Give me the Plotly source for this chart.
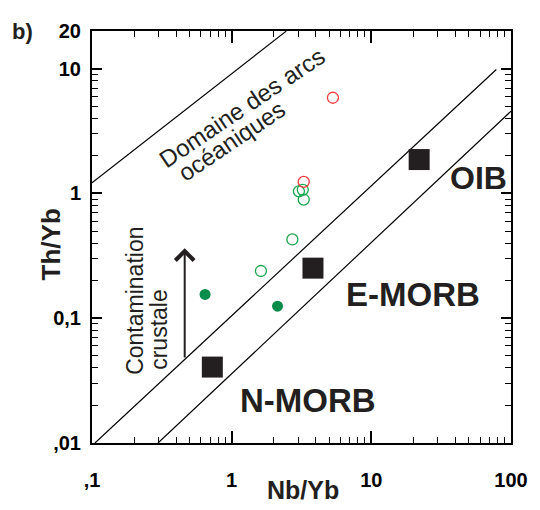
import math
import plotly.graph_objects as go

# ---------------- data ----------------
# reference lines (Nb/Yb, Th/Yb end points)
arc_line_x = [0.1, 2.46]
arc_line_y = [1.22, 20.0]
array_upper_x = [0.105, 78.5]
array_upper_y = [0.01, 9.86]
array_lower_x = [0.297, 100.0]
array_lower_y = [0.01, 4.57]

# reference compositions (N-MORB, E-MORB, OIB)
ref_names = ["N-MORB", "E-MORB", "OIB"]
ref_x = [0.727, 3.82, 22.0]
ref_y = [0.0406, 0.252, 1.87]

# samples
green_filled_x = [0.645, 2.13]
green_filled_y = [0.155, 0.125]
green_open_x = [1.62, 2.72, 3.03, 3.23, 3.28]
green_open_y = [0.239, 0.428, 1.04, 1.07, 0.894]
red_open_x = [3.28, 5.31]
red_open_y = [1.24, 5.85]

# crustal contamination arrow (Nb/Yb, Th/Yb start -> end)
arrow_x = 0.461
arrow_y_start = 0.0472
arrow_y_end = 0.364

# axis ticks
x_tickvals = [0.1, 1, 10, 100]
x_ticktext = [",1", "1", "10", "100"]
y_tickvals = [0.01, 0.1, 1, 10, 20]
y_ticktext = [",01", "0,1", "1", "10", "20"]
x_range = [0.1, 100]
y_range = [0.01, 20.05]

# ---------------- layout helpers ----------------
# the page body has an 8px margin, so the figure starts at (8, 8)
OFF = 8
W, H = 532, 502
ML, MR, MT, MB = 84, 23, 13, 67
PW, PH = W - ML - MR, H - MT - MB
PLOT_L, PLOT_B = OFF + ML, OFF + H - MB   # page pixel coords of plot corner


def px(xp, yp):
    """page pixel position -> paper coordinates"""
    return (xp - PLOT_L) / PW, (PLOT_B - yp) / PH


FONT = "Liberation Sans, Arial, Helvetica, sans-serif"
TXT = "#231f20"

fig = go.Figure()
line_style = dict(color="black", width=1.2)
for lx, ly in [(arc_line_x, arc_line_y), (array_upper_x, array_upper_y),
               (array_lower_x, array_lower_y)]:
    fig.add_trace(go.Scatter(x=lx, y=ly, mode="lines", line=line_style,
                             hoverinfo="skip", showlegend=False))

fig.add_trace(go.Scatter(x=ref_x, y=ref_y, mode="markers", text=ref_names,
                         marker=dict(symbol="square", size=21, color=TXT,
                                     line=dict(width=0)), showlegend=False))
fig.add_trace(go.Scatter(x=green_filled_x, y=green_filled_y, mode="markers",
                         marker=dict(symbol="circle", size=11, color="#0a8c4a",
                                     line=dict(width=0)), showlegend=False))
fig.add_trace(go.Scatter(x=green_open_x, y=green_open_y, mode="markers",
                         marker=dict(symbol="circle-open", size=11, color="#1aa64e",
                                     line=dict(width=1.3)), showlegend=False))
fig.add_trace(go.Scatter(x=red_open_x, y=red_open_y, mode="markers",
                         marker=dict(symbol="circle-open", size=11, color="#ee3b3f",
                                     line=dict(width=1.3)), showlegend=False))

annos = []


def label(text, xp, yp, size, bold=False, angle=0, align="center"):
    x, y = px(xp, yp)
    t = "<b>%s</b>" % text if bold else text
    annos.append(dict(text=t, x=x, y=y, xref="paper", yref="paper",
                      xanchor="center", yanchor="middle", showarrow=False,
                      textangle=angle, align=align,
                      font=dict(family=FONT, size=size, color=TXT)))


label("Domaine des arcs", 244, 99, 24, angle=-34)
label("océaniques", 234, 133, 24, angle=-34)
label("Contamination", 136, 297, 23, angle=-90)
label("crustale", 160, 327, 23, angle=-90)
label("OIB", 484, 172, 32, bold=True)
label("E-MORB", 418, 291, 33, bold=True)
label("N-MORB", 311, 399, 33, bold=True)
label("b)", 22, 22, 22, bold=True)
label("Th/Yb", 50, 240, 26, bold=True, angle=-90)
label("Nb/Yb", 306, 491, 25, bold=True)

annos.append(dict(x=math.log10(arrow_x), y=math.log10(arrow_y_end),
                  ax=math.log10(arrow_x), ay=math.log10(arrow_y_start),
                  xref="x", yref="y", axref="x", ayref="y", text="",
                  showarrow=True, arrowhead=4, arrowsize=1.8, arrowwidth=2,
                  arrowcolor=TXT))

axis_common = dict(type="log", showgrid=False, zeroline=False,
                   showline=True, linecolor="black", linewidth=2,
                   mirror="ticks", ticks="inside", tickcolor="black",
                   tickwidth=1.5, tickmode="array",
                   tickfont=dict(family=FONT, size=20, color="black"))

fig.update_layout(
    width=W, height=H, margin=dict(l=ML, r=MR, t=MT, b=MB),
    paper_bgcolor="white", plot_bgcolor="white",
    annotations=annos,
    xaxis=dict(**axis_common, range=[math.log10(v) for v in x_range],
               tickvals=x_tickvals, ticktext=[("<b>%s</b>" % t) for t in x_ticktext],
               ticklen=12, ticklabelstandoff=18,
               minor=dict(ticks="inside", ticklen=6, dtick="D1",
                          tickcolor="black", tickwidth=1.2, showgrid=False)),
    yaxis=dict(**axis_common, range=[math.log10(v) for v in y_range],
               tickvals=y_tickvals, ticktext=[("<b>%s</b>" % t) for t in y_ticktext],
               ticklen=10, ticklabelstandoff=5,
               minor=dict(ticks="inside", ticklen=6, dtick="D1",
                          tickcolor="black", tickwidth=1.2, showgrid=False)),
)

fig.write_html("out.html")
